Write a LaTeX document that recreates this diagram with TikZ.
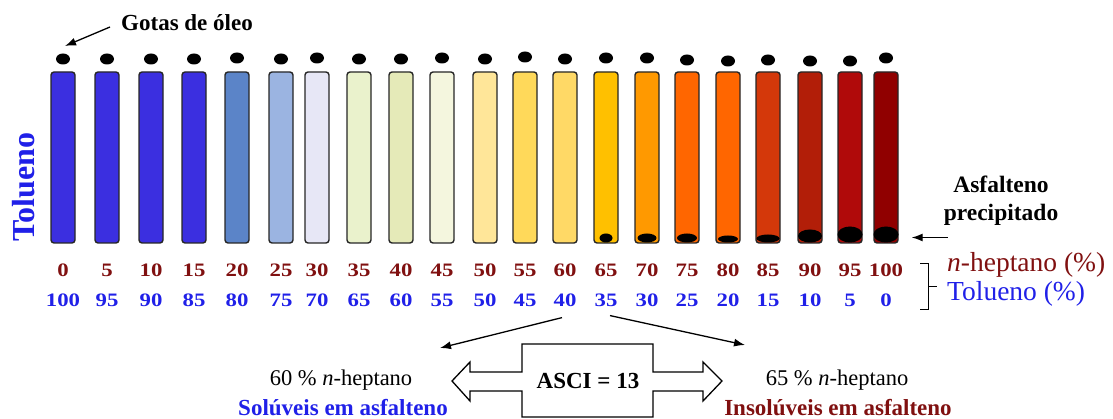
\documentclass[tikz,border=0pt]{standalone}
\usepackage{fontspec}
\setmainfont{Liberation Serif}
\newfontfamily\numfont[FakeStretch=1.2]{Liberation Serif}
\usetikzlibrary{shapes.geometric,arrows.meta}

\definecolor{heptred}{RGB}{128,16,16}
\definecolor{tolblue}{RGB}{32,32,232}
% tube colours, from toluene blue to dark red
\definecolor{tbA}{RGB}{59,47,224}
\definecolor{tbB}{RGB}{91,132,200}
\definecolor{tbC}{RGB}{155,180,225}
\definecolor{tbD}{RGB}{231,231,246}
\definecolor{tbE}{RGB}{234,242,204}
\definecolor{tbF}{RGB}{229,234,184}
\definecolor{tbG}{RGB}{244,246,222}
\definecolor{tbH}{RGB}{255,230,153}
\definecolor{tbI}{RGB}{255,217,90}
\definecolor{tbJ}{RGB}{255,217,102}
\definecolor{tbK}{RGB}{255,192,0}
\definecolor{tbL}{RGB}{255,153,0}
\definecolor{tbM}{RGB}{255,102,0}
\definecolor{tbN}{RGB}{212,56,10}
\definecolor{tbO}{RGB}{178,30,8}
\definecolor{tbP}{RGB}{176,10,10}
\definecolor{tbQ}{RGB}{144,0,0}

\begin{document}
\begin{tikzpicture}[x=1pt,y=-1pt]
	\tikzstyle{tube}=[rectangle,rounded corners=3pt,draw=black!85,line width=1.4pt,minimum width=24pt,minimum height=171pt,inner sep=0pt]
	\tikzstyle{drop}=[ellipse,fill=black,minimum width=14pt,minimum height=11pt,inner sep=0pt]
	\tikzstyle{sediment}=[ellipse,fill=black,inner sep=0pt,anchor=south]
	\tikzstyle{hept}=[text=heptred,font=\numfont\bfseries\fontsize{19}{21}\selectfont,inner sep=1pt]
	\tikzstyle{tolu}=[text=tolblue,font=\numfont\bfseries\fontsize{19}{21}\selectfont,inner sep=1pt]
	\tikzstyle{pointer}=[draw,line width=1.3pt,-{Latex[length=11pt,width=8pt]}]
	\useasboundingbox (0,0) rectangle (1113,419);

	% tubes, oil drops and the two rows of percentages
	\foreach \i/\x/\col/\dy in {1/63/tbA/59, 2/107/tbA/59, 3/151/tbA/59, 4/194/tbA/59,
		5/237/tbB/58, 6/281/tbC/59, 7/317/tbD/58, 8/359/tbE/59, 9/401/tbF/59,
		10/442/tbG/58, 11/485/tbH/59, 12/525/tbI/57, 13/565/tbJ/59, 14/606/tbK/58,
		15/647/tbL/58, 16/687/tbM/60, 17/728/tbM/61, 18/768/tbN/60, 19/810/tbO/61,
		20/850/tbP/61, 21/886/tbQ/58} {
		\pgfmathtruncatemacro\hv{5*(\i-1)}
		\pgfmathtruncatemacro\tv{100-\hv}
		\node [tube,fill=\col] (t\i) at (\x,157.5) {};
		\node [drop] (d\i) at (\x,\dy) {};
		\node [hept] (h\i) at (\x,270) {\hv};
		\node [tolu] (l\i) at (\x,300) {\tv};
	}

	% precipitated asphaltene
	\foreach \i/\w/\h in {14/13/9, 15/19/9, 16/20/9, 17/20/7, 18/23/8, 19/24/13, 20/25/16, 21/25/16}
		\node [sediment,minimum width=\w pt,minimum height=\h pt] (s\i) at ([yshift=1pt]t\i.south) {};

	\node [rotate=90,text=tolblue,font=\bfseries\fontsize{32}{34}\selectfont,inner sep=1pt] (tol) at (24,187) {Tolueno};

	\node [font=\bfseries\fontsize{23}{25}\selectfont,inner sep=2pt] (gotas) at (187,23) {Gotas de óleo};
	\coordinate (gtip) at (65,46);
	\path[pointer] ([shift={(-9pt,-4pt)}]gotas.west) -- (gtip);

	\node [align=center,font=\bfseries\fontsize{23.5}{28}\selectfont,inner sep=2pt] (asf) at (1001,201) {Asfalteno\\precipitado};
	\path[pointer] ([shift={(49pt,-3pt)}]s21.east) -- ([shift={(13pt,-3pt)}]s21.east);

	% bracket and row captions
	\draw [line width=0.9pt] (920,263) -- (928,263) -- (928,309) -- (920,309);
	\draw [line width=0.9pt] (928,286) -- (937,286);
	\node [anchor=west,text=heptred,font=\fontsize{27.5}{29}\selectfont,inner sep=1pt] (hlab) at (946,265) {\textit{n}-heptano (\%)};
	\node [anchor=west,text=tolblue,font=\fontsize{27.5}{29}\selectfont,inner sep=1pt] (tlab) at (946,294) {Tolueno (\%)};

	% onset between 60 and 65 %
	\coordinate (ltip) at (440,348);
	\coordinate (rtip) at (745,345);
	\path[pointer] ([shift={(-3pt,-10pt)}]l13.south) -- (ltip);
	\path[pointer] ([shift={(4pt,-8pt)}]l14.south) -- (rtip);

	\draw [line width=1.3pt] (522,344) -- (653,344) -- (653,372) -- (703,372) -- (703,362) -- (722,381)
		-- (703,401) -- (703,391) -- (653,391) -- (653,417) -- (522,417) -- (522,391) -- (470,391)
		-- (470,401) -- (452,381) -- (470,362) -- (470,372) -- (522,372) -- cycle;
	\node [font=\bfseries\fontsize{23}{25}\selectfont,inner sep=1pt] (asci) at (588,381) {ASCI = 13};

	\node [font=\fontsize{22.5}{24}\selectfont,inner sep=1pt] (p60) at (341,380) {60 \% \textit{n}-heptano};
	\node [text=tolblue,font=\bfseries\fontsize{23}{25}\selectfont,inner sep=1pt] (sol) at (343,408) {Solúveis em asfalteno};
	\node [font=\fontsize{22.5}{24}\selectfont,inner sep=1pt] (p65) at (837,380) {65 \% \textit{n}-heptano};
	\node [text=heptred,font=\bfseries\fontsize{23}{25}\selectfont,inner sep=1pt] (insol) at (838,408) {Insolúveis em asfalteno};
\end{tikzpicture}
\end{document}
